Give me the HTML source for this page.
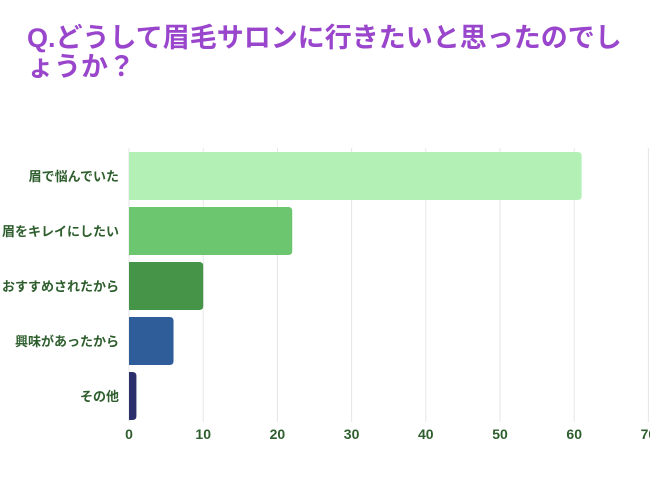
<!DOCTYPE html>
<html><head><meta charset="utf-8"><style>
body{margin:0;background:#fff;width:650px;height:488px;overflow:hidden;font-family:"Liberation Sans","Noto Sans CJK JP",sans-serif}
.t{position:absolute;left:27px;top:24px;width:612px;font-size:27px;font-weight:bold;color:#9945cc;line-height:29px;letter-spacing:0}
</style></head><body>
<div class="t">Q.どうして眉毛サロンに行きたいと思ったのでしょうか？</div>
<svg id="c" width="650" height="488" style="position:absolute;left:0;top:0"></svg>
<script>
const categories=["眉で悩んでいた","眉をキレイにしたい","おすすめされたから","興味があったから","その他"];
const values=[61,22,10,6,1];
const ticks=[0,10,20,30,40,50,60,70];
const colors=["#b3f0b5","#6cc56f","#469447","#2e5d9a","#2b2f6b"];
const NS="http://www.w3.org/2000/svg",svg=document.getElementById("c");
const x0=129,pxPer=7.42,top0=152,step=55,bh=48;
const xs=v=>x0+v*pxPer;
function mk(t,a){const e=document.createElementNS(NS,t);for(const k in a)e.setAttribute(k,a[k]);svg.appendChild(e);return e;}
ticks.forEach(t=>{
 const l=mk("line",{x1:xs(t),x2:xs(t),y1:148,y2:422,stroke:"#e6e6e6","stroke-width":1});
 
 
 const tx=mk("text",{x:xs(t),y:439,"text-anchor":"middle","font-size":14,"font-weight":"bold",fill:"#2e5e2e"});
 tx.textContent=t;
 
 
});
categories.forEach((c,i)=>{
 const y=top0+i*step,w=xs(values[i])-x0;
 const p=mk("path",{d:`M${x0},${y}H${x0+w-4}Q${x0+w},${y} ${x0+w},${y+4}V${y+bh-4}Q${x0+w},${y+bh} ${x0+w-4},${y+bh}H${x0}Z`,fill:colors[i]});
 
 
 const tx=mk("text",{x:119,y:y+bh/2+5,"text-anchor":"end","font-size":13,"font-weight":"bold",fill:"#2e5e2e"});
 tx.textContent=c;
 
 
});
</script>
</body></html>
